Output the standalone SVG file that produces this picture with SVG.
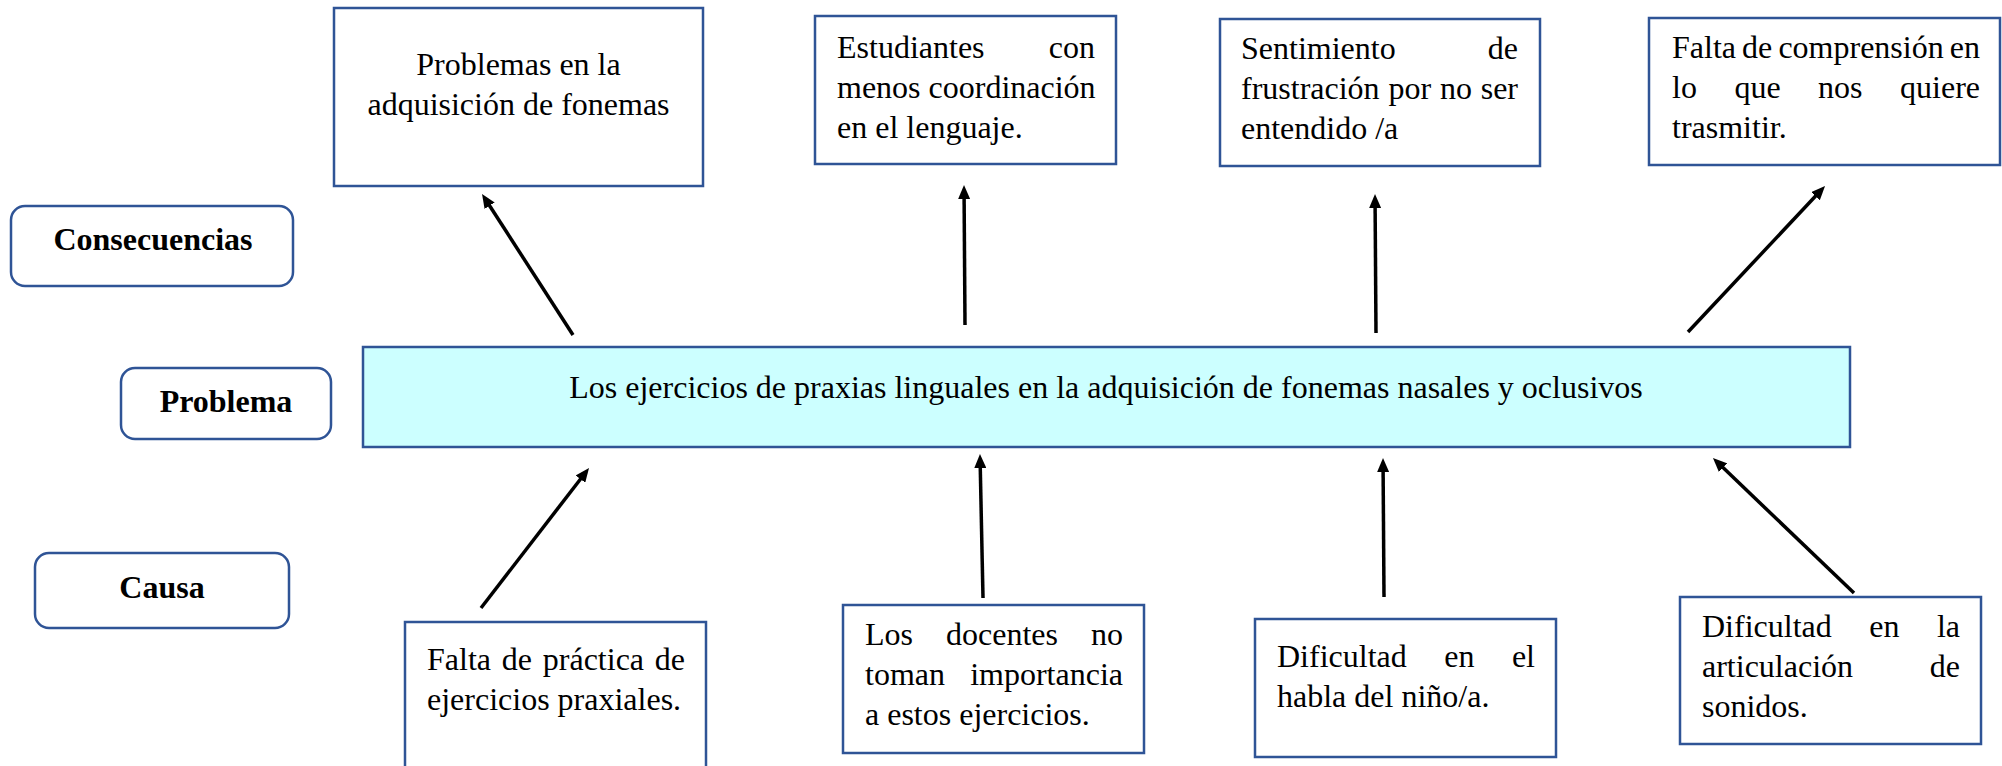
<svg xmlns="http://www.w3.org/2000/svg" width="2002" height="766" viewBox="0 0 2002 766">
<style>
.box{fill:#ffffff;stroke:#2F5496;stroke-width:2.5}
.main{fill:#CCFFFF;stroke:#2F5496;stroke-width:2.5}
.t{font-family:"Liberation Serif","Times New Roman",serif;font-size:32px;fill:#000}
.b{font-family:"Liberation Serif","Times New Roman",serif;font-size:32px;font-weight:bold;fill:#000}
.m{text-anchor:middle}
.e{text-anchor:end}
.arr{stroke:#000;stroke-width:3.5;fill:none;marker-end:url(#ah)}
</style>
<defs>
<marker id="ah" markerUnits="userSpaceOnUse" markerWidth="14" markerHeight="12" refX="3" refY="6" orient="auto" viewBox="0 0 14 12">
<path d="M0,0 L14,6 L0,12 z" fill="#000"/>
</marker>
</defs>
<rect width="2002" height="766" fill="#ffffff"/>

<g id="label-consecuencias">
<rect class="box" x="11" y="206" width="282" height="80" rx="14"/>
<text class="b m" x="153" y="250">Consecuencias</text>
</g>
<g id="label-problema">
<rect class="box" x="121" y="368" width="210" height="71" rx="14"/>
<text class="b m" x="226" y="412">Problema</text>
</g>
<g id="label-causa">
<rect class="box" x="35" y="553" width="254" height="75" rx="14"/>
<text class="b m" x="162" y="598">Causa</text>
</g>

<g id="problem-main">
<rect class="main" x="363" y="347" width="1487" height="100"/>
<text class="t m" x="1106" y="398">Los ejercicios de praxias linguales en la adquisición de fonemas nasales y oclusivos</text>
</g>

<g id="cons-1">
<rect class="box" x="334" y="8" width="369" height="178"/>
<text class="t m" x="518.5" y="75">Problemas en la</text>
<text class="t m" x="518.5" y="115">adquisición de fonemas</text>
</g>
<g id="cons-2">
<rect class="box" x="815" y="16" width="301" height="148"/>
<text class="t" x="837" y="58">Estudiantes</text>
<text class="t e" x="1095" y="58">con</text>
<text class="t" x="837" y="98">menos coordinación</text>
<text class="t" x="837" y="138">en el lenguaje.</text>
</g>
<g id="cons-3">
<rect class="box" x="1220" y="19" width="320" height="147"/>
<text class="t" x="1241" y="59">Sentimiento</text>
<text class="t e" x="1518" y="59">de</text>
<text class="t" x="1241" y="99">frustración</text>
<text class="t" x="1388.4" y="99">por</text>
<text class="t" x="1439.9" y="99">no</text>
<text class="t e" x="1518" y="99">ser</text>
<text class="t" x="1241" y="139">entendido /a</text>
</g>
<g id="cons-4">
<rect class="box" x="1649" y="18" width="351" height="147"/>
<text class="t" x="1672" y="58">Falta</text>
<text class="t" x="1742.1" y="58">de</text>
<text class="t" x="1778.4" y="58">comprensión</text>
<text class="t e" x="1980" y="58">en</text>
<text class="t" x="1672" y="98">lo</text>
<text class="t" x="1734.4" y="98">que</text>
<text class="t" x="1818.1" y="98">nos</text>
<text class="t e" x="1980" y="98">quiere</text>
<text class="t" x="1672" y="138">trasmitir.</text>
</g>

<g id="cause-1">
<rect class="box" x="405" y="622" width="301" height="150"/>
<text class="t" x="427" y="670">Falta</text>
<text class="t" x="501.8" y="670">de</text>
<text class="t" x="542.8" y="670">práctica</text>
<text class="t e" x="685" y="670">de</text>
<text class="t" x="427" y="710">ejercicios praxiales.</text>
</g>
<g id="cause-2">
<rect class="box" x="843" y="605" width="301" height="148"/>
<text class="t" x="865" y="645">Los</text>
<text class="t" x="946" y="645">docentes</text>
<text class="t e" x="1123" y="645">no</text>
<text class="t" x="865" y="685">toman</text>
<text class="t e" x="1123" y="685">importancia</text>
<text class="t" x="865" y="725">a estos ejercicios.</text>
</g>
<g id="cause-3">
<rect class="box" x="1255" y="619" width="301" height="138"/>
<text class="t" x="1277" y="667">Dificultad</text>
<text class="t" x="1444.3" y="667">en</text>
<text class="t e" x="1535" y="667">el</text>
<text class="t" x="1277" y="707">habla del niño/a.</text>
</g>
<g id="cause-4">
<rect class="box" x="1680" y="597" width="301" height="147"/>
<text class="t" x="1702" y="637">Dificultad</text>
<text class="t" x="1869.3" y="637">en</text>
<text class="t e" x="1960" y="637">la</text>
<text class="t" x="1702" y="677">articulación</text>
<text class="t e" x="1960" y="677">de</text>
<text class="t" x="1702" y="717">sonidos.</text>
</g>

<g id="connectors">
<line class="arr" x1="573" y1="335" x2="488" y2="203.2"/>
<line class="arr" x1="965" y1="325" x2="964.1" y2="196"/>
<line class="arr" x1="1376" y1="333" x2="1375.1" y2="205"/>
<line class="arr" x1="1688" y1="332" x2="1817.5" y2="194"/>
<line class="arr" x1="481" y1="608" x2="582.3" y2="476.7"/>
<line class="arr" x1="983" y1="598" x2="980.2" y2="465"/>
<line class="arr" x1="1384" y1="597" x2="1383.1" y2="469"/>
<line class="arr" x1="1854" y1="593" x2="1720.9" y2="465.6"/>
</g>
</svg>
